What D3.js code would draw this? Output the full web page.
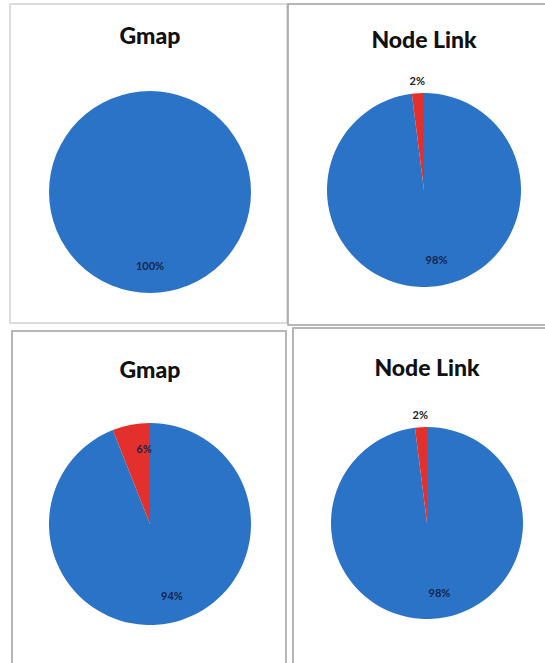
<!DOCTYPE html>
<html>
<head>
<meta charset="utf-8">
<script src="https://cdn.jsdelivr.net/npm/d3@7"></script>
<style>
  body { margin: 0; background: #fff; }
  svg { display: block; }
</style>
</head>
<body>
<svg id="chart" width="545" height="663"></svg>
<script>
// four pies, two conditions each
var titles = ["Gmap", "Node Link", "Gmap", "Node Link"];
var categories = ["main", "other"];
var mainValues = [100, 98, 94, 98];
var otherValues = [0, 2, 6, 2];

// panel frames (box) and pie geometry, in page pixels
var panels = [
  {x: 10,  y: 4,   w: 277, h: 319, cx: 150, cy: 192, r: 101, ty: 38,  stroke: "#d4d4d4"},
  {x: 288, y: 4,   w: 262, h: 321, cx: 424, cy: 190, r: 97,  ty: 42,  stroke: "#a5a5a5"},
  {x: 12,  y: 331, w: 274, h: 340, cx: 150, cy: 524, r: 101, ty: 372, stroke: "#a5a5a5"},
  {x: 293, y: 328, w: 260, h: 340, cx: 427, cy: 523, r: 96,  ty: 370, stroke: "#a5a5a5"}
];

var color = d3.scaleOrdinal()
    .domain(categories)
    .range(["#2b73c6", "#e3302c"]);

var pie = d3.pie()
    .sort(null)
    .value(function(d) { return d.value; });

var svg = d3.select("#chart");

panels.forEach(function(p, i) {
  var data = [
    {key: "main", value: mainValues[i]},
    {key: "other", value: otherValues[i]}
  ];

  // panel border
  svg.append("rect")
      .attr("x", p.x)
      .attr("y", p.y)
      .attr("width", p.w)
      .attr("height", p.h)
      .attr("fill", "#fff")
      .attr("stroke", p.stroke)
      .attr("stroke-width", 1.6);

  var g = svg.append("g")
      .attr("transform", "translate(" + p.cx + "," + p.cy + ")");

  svg.append("text")
      .attr("x", p.cx)
      .attr("y", p.ty)
      .attr("text-anchor", "middle")
      .attr("dominant-baseline", "middle")
      .style("font-family", "Lato, 'Open Sans', sans-serif")
      .style("font-weight", "900")
      .style("font-size", "23px")
      .attr("fill", "#111")
      .text(titles[i]);

  var arc = d3.arc().innerRadius(0).outerRadius(p.r);
  var inLabel = d3.arc().innerRadius(p.r * 0.74).outerRadius(p.r * 0.74);
  var outLabel = d3.arc().innerRadius(p.r + 11).outerRadius(p.r + 11);

  var arcs = pie(data).filter(function(d) { return d.data.value > 0; });

  g.selectAll("path")
      .data(arcs)
      .enter().append("path")
      .attr("d", arc)
      .attr("fill", function(d) { return color(d.data.key); });

  g.selectAll("text")
      .data(arcs)
      .enter().append("text")
      .attr("transform", function(d) {
        // tiny slices get their label outside the pie
        var c = d.data.value < 5 ? outLabel.centroid(d) : inLabel.centroid(d);
        return "translate(" + c + ")";
      })
      .attr("dx", function(d) { return (d.data.value < 5 || d.data.value === 100) ? 0 : 8; })
      .attr("text-anchor", "middle")
      .attr("dominant-baseline", "middle")
      .style("font-family", "Lato, sans-serif")
      .style("font-weight", "bold")
      .style("font-size", "11px")
      .attr("fill", function(d) { return d.data.value < 5 ? "#222" : "#14264a"; })
      .text(function(d) { return d.data.value + "%"; });
});
</script>
</body>
</html>
